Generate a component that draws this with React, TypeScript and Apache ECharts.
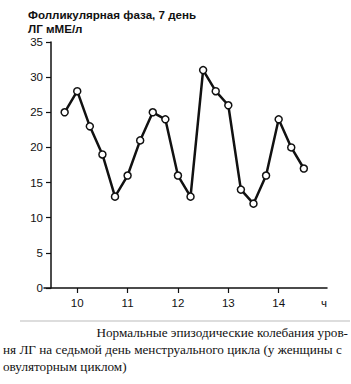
import React, { useEffect, useRef } from "react";
import * as echarts from "echarts";

const hours = [9.75, 10, 10.25, 10.5, 10.75, 11, 11.25, 11.5, 11.75, 12, 12.25, 12.5, 12.75, 13, 13.25, 13.5, 13.75, 14, 14.25, 14.5];
const lhValues = [25, 28, 23, 19, 13, 16, 21, 25, 24, 16, 13, 31, 28, 26, 14, 12, 16, 24, 20, 17];
const xTickValues = [10, 11, 12, 13, 14];
const unitLabelPos = 14.9;
const titleText = "Фолликулярная фаза, 7 день";
const yUnitText = "ЛГ мМЕ/л";
const captionLines = [
  "Нормальные эпизодические колебания уров-",
  "ня ЛГ на седьмой день менструального цикла (у женщины с",
  "овуляторным циклом)",
];

export default function App() {
  const ref = useRef<HTMLDivElement>(null);
  useEffect(() => {
    if (!ref.current) return;
    const chart = echarts.init(ref.current, null, { renderer: "svg" });
    const data = hours.map((h, i) => [h, lhValues[i]]);
    chart.setOption({
      animation: false,
      backgroundColor: "#fff",
      grid: { left: 44, right: 24, top: 42, bottom: 96 },
      xAxis: {
        type: "value",
        min: 9.34,
        max: 14.96,
        axisLine: { show: true, lineStyle: { color: "#111", width: 1.5 } },
        axisTick: { show: true, customValues: xTickValues, length: 5, lineStyle: { color: "#111", width: 1.2 } },
        axisLabel: {
          customValues: [...xTickValues, unitLabelPos],
          formatter: (v: number) => (Math.abs(v - unitLabelPos) < 1e-6 ? "ч" : String(v)),
          color: "#111",
          fontSize: 11.5,
          fontFamily: "Liberation Sans",
          margin: 9,
        },
        splitLine: { show: false },
      },
      yAxis: {
        type: "value",
        min: 0,
        max: 35,
        interval: 5,
        offset: -7,
        axisLine: { show: true, lineStyle: { color: "#111", width: 1.5 } },
        axisTick: { show: true, length: 5, lineStyle: { color: "#111", width: 1.2 } },
        axisLabel: { color: "#111", fontSize: 11.5, fontFamily: "Liberation Sans", margin: 8 },
        splitLine: { show: false },
      },
      series: [
        {
          type: "line",
          data,
          symbol: "circle",
          symbolSize: 7,
          lineStyle: { color: "#111", width: 2.5 },
          itemStyle: { color: "#fff", borderColor: "#111", borderWidth: 1.5 },
          z: 3,
        },
      ],
      graphic: [
        { type: "text", left: 28, top: 8, style: { text: titleText, font: "bold 11.6px 'Liberation Sans'", fill: "#111" } },
        { type: "text", left: 28, top: 22, style: { text: yUnitText, font: "bold 11.6px 'Liberation Sans'", fill: "#111" } },
        { type: "line", shape: { x1: 20, y1: 321, x2: 350, y2: 321 }, style: { stroke: "#bbb", lineWidth: 1 } },
        { type: "text", right: 3, top: 326, style: { text: captionLines[0], font: "13.2px 'Liberation Serif'", fill: "#111" } },
        { type: "text", left: 3, top: 343, style: { text: captionLines[1], font: "13.2px 'Liberation Serif'", fill: "#111" } },
        { type: "text", left: 3, top: 360, style: { text: captionLines[2], font: "13.2px 'Liberation Serif'", fill: "#111" } },
      ],
    });
    return () => chart.dispose();
  }, []);
  return <div ref={ref} style={{ width: 351, height: 384, position: "fixed", left: 0, top: 0 }} />;
}
